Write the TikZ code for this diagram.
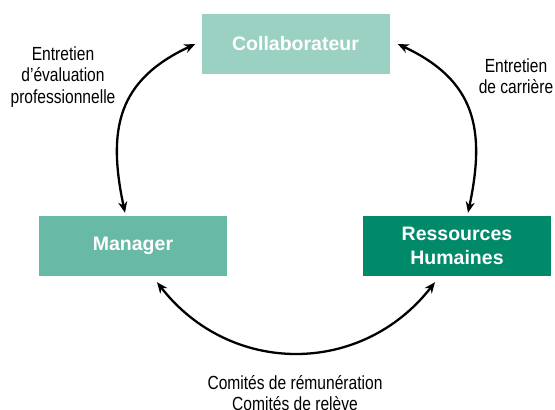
\documentclass[tikz,border=0pt]{standalone}
\usepackage{fontspec}
\setmainfont{Liberation Sans}
\newfontfamily\narrowfont[FakeStretch=0.82]{Liberation Sans}
\usetikzlibrary{arrows.meta}
\definecolor{collabgreen}{RGB}{155,209,195}
\definecolor{managergreen}{RGB}{104,185,165}
\definecolor{rhgreen}{RGB}{0,138,106}

\begin{document}
\begin{tikzpicture}
		[
			x=1pt, y=1pt,
			box/.style={rectangle, minimum width=188pt, minimum height=60pt, inner sep=0pt, align=center, text=white, font=\bfseries\fontsize{19.5}{23.5}\selectfont},
			b1/.style={box, fill=collabgreen},
			b2/.style={box, fill=managergreen},
			b3/.style={box, fill=rhgreen},
			note/.style={align=center, inner sep=0pt, font=\narrowfont\fontsize{19}{21.5}\selectfont},
			link/.style={line width=2.3pt, {Stealth[length=11pt,width=9pt,inset=3.5pt]}-{Stealth[length=11pt,width=9pt,inset=3.5pt]}},
		]

		\useasboundingbox (0,0) rectangle (555,410);

		% Nodes
		\node[b1] (collab) at (295.5,366) {Collaborateur};
		\node[b2] (manager) at (133,164) {Manager};
		\node[b3] (rh) at (457,164) {Ressources\\Humaines};

		% Labels
		\node[note] (evalnote) at (63,333) {Entretien\\d’évaluation\\professionnelle};
		\node[note] (careernote) at (516,334) {Entretien\\de carrière};
		\node[note] (comitenote) at (295,17) {Comités de rémunération\\Comités de relève};

		% Edges
		\draw[link] ([xshift=-8pt,yshift=3pt]manager.north) to[out=102, in=205, looseness=1.2] ([xshift=-6pt]collab.west);
		\draw[link] ([xshift=11pt,yshift=3pt]rh.north) to[out=78, in=-25, looseness=1.2] ([xshift=8pt]collab.east);
		\draw[link] ([xshift=24pt,yshift=-6pt]manager.south) to[out=-52, in=232, looseness=1.1] ([xshift=-22pt,yshift=-6pt]rh.south);

\end{tikzpicture}
\end{document}
